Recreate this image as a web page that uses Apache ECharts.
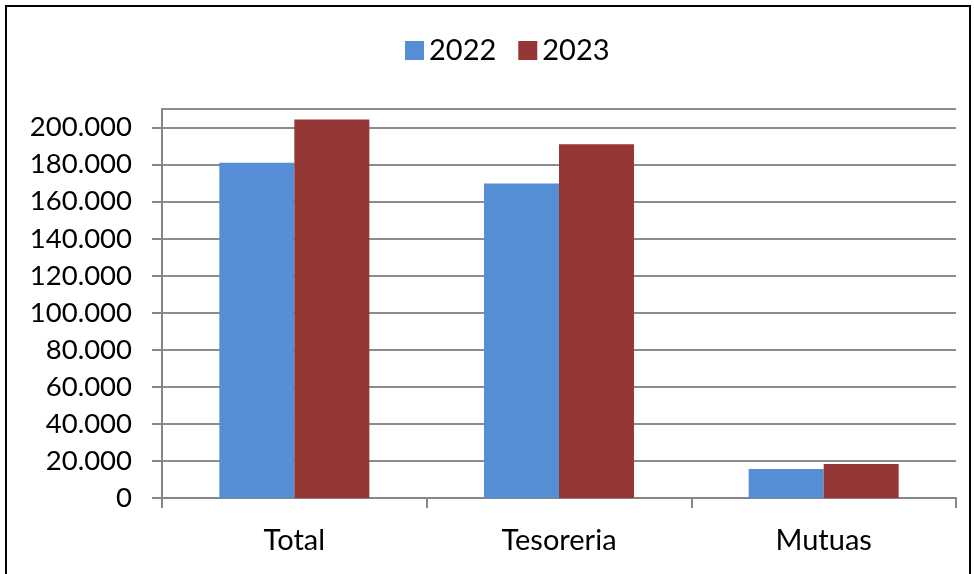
<!DOCTYPE html>
<html><head><meta charset="utf-8">
<script src="https://cdn.jsdelivr.net/npm/echarts@6/dist/echarts.min.js"></script>
<style>
html,body{margin:0;padding:0;background:#fff;}
#frame{position:absolute;left:5px;top:5px;width:966px;height:580px;border:2px solid #000;box-sizing:border-box;}
#c{position:absolute;left:0;top:0;width:974px;height:574px;}
</style></head>
<body>
<div id="frame"></div>
<div id="c"></div>
<script>
const categories = ['Total', 'Tesoreria', 'Mutuas'];
const seriesNames = ['2022', '2023'];
const values2022 = [181000, 169800, 15600];
const values2023 = [204300, 191000, 18300];
const colors = ['#558ED5', '#953735'];

const chart = echarts.init(document.getElementById('c'));
const fmt = v => v === 0 ? '0' : (v / 1000).toFixed(0) + '.000';
chart.setOption({
  animation: false,
  textStyle: { fontFamily: 'Lato' },
  legend: {
    data: seriesNames,
    top: 31,
    left: 400,
    itemWidth: 19,
    itemHeight: 19,
    itemGap: 22,
    icon: 'rect',
    textStyle: { fontSize: 29, color: '#000', fontFamily: 'Lato' }
  },
  grid: { left: 162, right: 18, top: 109, bottom: 76, containLabel: false },
  xAxis: {
    type: 'category',
    data: categories,
    axisLine: { lineStyle: { color: '#868686', width: 2 } },
    axisTick: { show: true, length: 10, lineStyle: { color: '#868686', width: 2 } },
    axisLabel: { fontSize: 29, color: '#000', margin: 28, fontFamily: 'Lato' }
  },
  yAxis: {
    type: 'value',
    min: 0,
    max: 210000,
    interval: 20000,
    axisLine: { show: true, lineStyle: { color: '#868686', width: 2 } },
    axisTick: { show: true, length: 10, lineStyle: { color: '#868686', width: 2 } },
    splitLine: { show: true, lineStyle: { color: '#8c8c8c', width: 2 } },
    axisLabel: {
      fontSize: 27.5, color: '#000', margin: 30, fontFamily: 'Lato',
      showMaxLabel: false,
      formatter: v => v > 200000 ? '' : fmt(v)
    }
  },
  series: [
    { name: seriesNames[0], type: 'bar', data: values2022, itemStyle: { color: colors[0] }, barWidth: 75, barGap: '0%' },
    { name: seriesNames[1], type: 'bar', data: values2023, itemStyle: { color: colors[1] }, barWidth: 75, barGap: '0%' }
  ]
});
</script>
</body></html>
